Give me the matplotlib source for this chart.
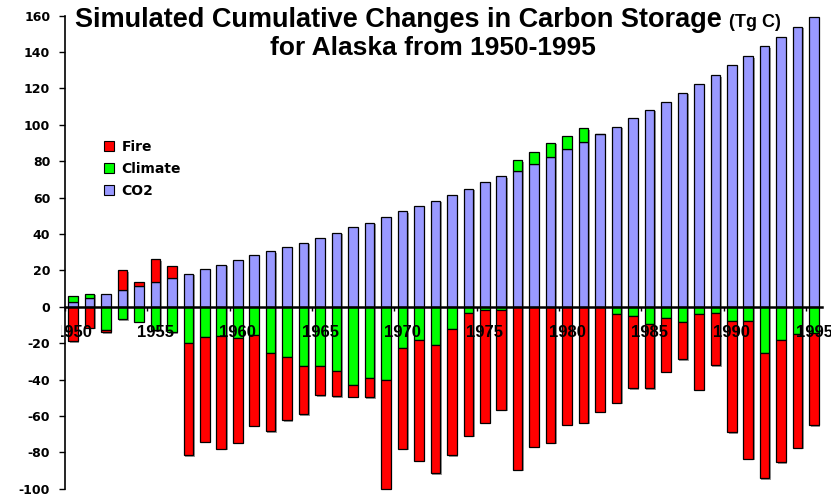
import numpy as np
import matplotlib
matplotlib.use("Agg")
import matplotlib.pyplot as plt
from matplotlib.patches import Patch
from matplotlib.transforms import Bbox, ScaledTranslation

# data (Tg C)
years = list(range(1950, 1996))
co2 = [2.8, 4.6, 7.2, 9.2, 11.3, 13.5, 15.9, 18.3, 20.5, 23.0,
       25.5, 28.5, 30.4, 32.8, 35.3, 38.0, 40.8, 43.8, 46.2, 49.3,
       52.6, 55.3, 58.4, 61.5, 64.8, 68.4, 71.8, 74.9, 78.6, 82.6,
       87.0, 90.8, 95.1, 99.0, 103.6, 108.2, 112.7, 117.6, 122.2, 127.3,
       132.7, 137.6, 143.1, 148.5, 154.0, 159.5]
climate = [3.1, 2.6, -12.6, -6.8, -8.1, -12.8, -14.0, -20.0, -16.5, -16.3,
           -17.4, -15.4, -25.5, -27.4, -32.3, -32.3, -35.4, -43.0, -39.0, -40.3,
           -22.6, -18.4, -20.8, -12.3, -3.2, -1.7, -1.7, 5.6, 6.5, 7.5,
           7.1, 7.3, 0.0, -4.2, -5.1, -9.5, -6.4, -8.2, -4.0, -3.6,
           -7.6, -7.8, -25.5, -18.2, -15.1, -14.5]
fire = [-19.0, -11.4, -1.5, 11.0, 2.4, 12.7, 6.5, -61.5, -57.8, -61.6,
        -57.3, -50.0, -42.9, -35.0, -26.7, -16.2, -13.8, -6.5, -10.7, -59.6,
        -55.5, -66.2, -70.7, -69.3, -67.6, -62.0, -55.0, -89.7, -76.8, -74.6,
        -64.8, -63.7, -57.6, -48.5, -39.8, -35.4, -29.4, -20.5, -41.5, -28.6,
        -61.5, -75.7, -68.7, -67.3, -62.4, -50.6]
yticks = list(range(-100, 161, 20))

colors = {"CO2": "#9999FF", "Climate": "#00FF00", "Fire": "#FF0000"}

fig = plt.figure(figsize=(8.31, 4.96), dpi=100)
ax = fig.add_axes([0.078, 0.0147, 0.9116, 0.9536])

x = np.arange(len(years))
pos_bot = np.zeros(len(years))
neg_bot = np.zeros(len(years))
shadow = ax.transData + ScaledTranslation(1.5 / 100, -1.5 / 100, fig.dpi_scale_trans)
# excel-style stacking: positives go up, negatives go down
for name, vals in [("CO2", co2), ("Climate", climate), ("Fire", fire)]:
    v = np.array(vals)
    bottom = np.where(v >= 0, pos_bot, neg_bot)
    # soft drop shadow like the original
    ax.bar(x, v, bottom=bottom, width=0.58, color="#9a9a9a", linewidth=0,
           transform=shadow, clip_on=False, zorder=1.8)
    ax.bar(x, v, bottom=bottom, width=0.58, color=colors[name],
           edgecolor="black", linewidth=0.9, clip_on=False, zorder=2)
    pos_bot += np.where(v > 0, v, 0)
    neg_bot += np.where(v < 0, v, 0)

ax.set_xlim(-0.5, len(years) - 0.5)
ax.set_ylim(-100, 160)
ax.set_axisbelow(False)

for s in ["top", "right"]:
    ax.spines[s].set_visible(False)
ax.spines["bottom"].set_position(("data", 0))
ax.spines["bottom"].set_linewidth(1.8)
ax.spines["bottom"].set_zorder(3)
ax.spines["left"].set_linewidth(1.2)

ax.set_yticks(yticks)
ax.set_yticklabels([str(t) for t in yticks], fontfamily="DejaVu Sans",
                   fontweight="bold", fontsize=9)
ax.tick_params(axis="y", direction="out", length=4.5, width=1.0, pad=6)

# ticks at category boundaries, labels every 5 years
ax.set_xticks(np.arange(0, len(years), 5) - 0.5)
ax.set_xticklabels([])
ax.set_xticks(np.arange(0, len(years), 5), minor=True)
ax.set_xticklabels([str(years[i]) for i in range(0, len(years), 5)], minor=True,
                   fontfamily="Liberation Sans", fontweight="bold", fontsize=12)
ax.tick_params(axis="x", which="major", direction="out", length=3, width=1.0)
ax.tick_params(axis="x", which="minor", length=0, pad=13)
# first year label is partly hidden behind the value axis in the original
for lab in ax.get_xticklabels(minor=True):
    lab.set_clip_box(Bbox([[61, 0], [831, 496]]))
    lab.set_clip_on(True)

handles = [Patch(facecolor=colors[n], edgecolor="black", linewidth=0.8)
           for n in ["Fire", "Climate", "CO2"]]
leg = ax.legend(handles, ["Fire", "Climate", "CO2"], loc="upper left",
                bbox_to_anchor=(104 / 831, 1 - 140 / 496),
                bbox_transform=fig.transFigure, frameon=False,
                prop={"family": "DejaVu Sans", "weight": "bold", "size": 10},
                handlelength=0.75, handleheight=0.75, handletextpad=0.5,
                labelspacing=0.58, borderpad=0, borderaxespad=0)

# title, with smaller units part
fig.text(75 / 831, 1 - 27 / 496, "Simulated Cumulative Changes in Carbon Storage",
         fontfamily="Liberation Sans", fontweight="bold", fontsize=19.5,
         ha="left", va="baseline")
fig.text(729 / 831, 1 - 27 / 496, "(Tg C)", fontfamily="Liberation Sans",
         fontweight="bold", fontsize=13, ha="left", va="baseline")
fig.text(433 / 831, 1 - 55 / 496, "for Alaska from 1950-1995",
         fontfamily="Liberation Sans", fontweight="bold", fontsize=19,
         ha="center", va="baseline")

fig.savefig("out.png", dpi=100)
